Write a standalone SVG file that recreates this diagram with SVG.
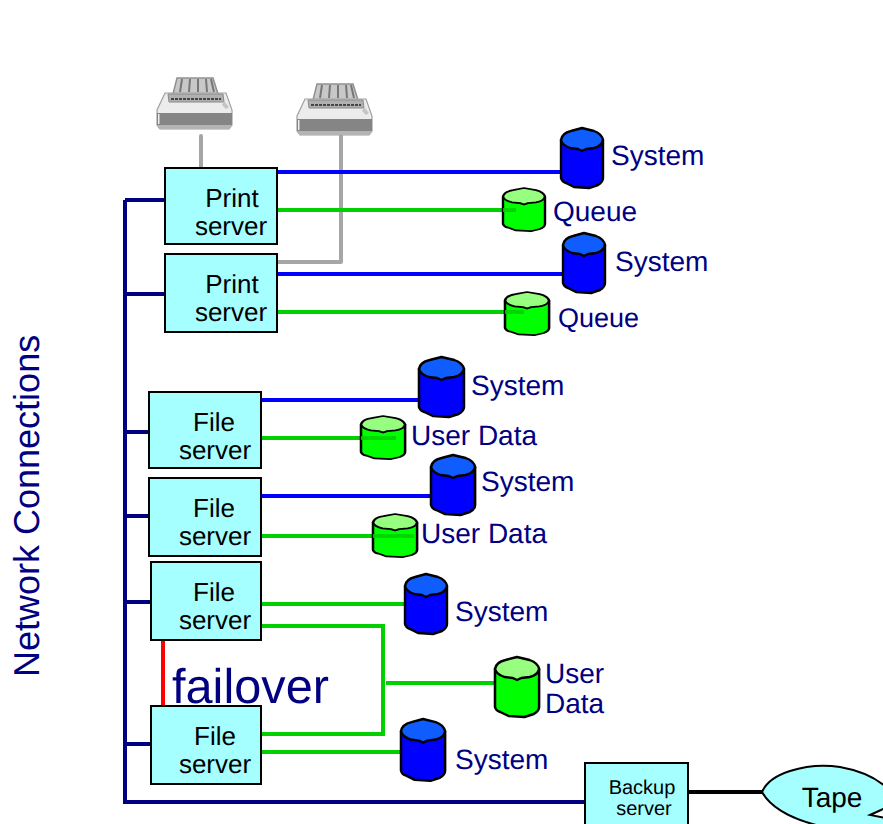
<svg xmlns="http://www.w3.org/2000/svg" xmlns:xlink="http://www.w3.org/1999/xlink" width="883" height="824" viewBox="0 0 883 824">
<style>
text{text-rendering:geometricPrecision}
.t{font-family:"Liberation Sans",Arial,sans-serif;fill:#000;font-size:26px;text-anchor:middle}
.l{font-family:"Liberation Sans",Arial,sans-serif;fill:#000080;font-size:28px}
.box{fill:#a6ffff;stroke:#000;stroke-width:2}
.c{fill:none;stroke-width:4}
.net{stroke:#000080}.b{stroke:#0000ff}.g{stroke:#00d000}.gr{stroke:#a6a6a6}
.cy{stroke:#000;stroke-width:2.4;stroke-linejoin:round}
.bb{fill:#0000ff}.bt{fill:#0f5cff}.gb{fill:#00ff00}.gt{fill:#96ff80}
</style>
<defs>
<path id="cb" d="M0,12 L0,50 Q1,54 5,55 L13,59 L28,60 L37,57 Q42,54 42,50 L42,12 Z"/>
<path id="ct" d="M0,12 Q1,5 10,3 L21,0 L33,3 Q41,6 42,12 Q41,18 33,20 L25,21 L21,23 L17,21 L9,20 Q1,17 0,12 Z"/>
<g id="cylB"><use href="#cb" xlink:href="#cb" class="cy bb"/><use href="#ct" xlink:href="#ct" class="cy bt"/></g>
<g id="cylG"><use href="#cb" xlink:href="#cb" class="cy gb"/><use href="#ct" xlink:href="#ct" class="cy gt"/></g>
<filter id="soft" x="-5%" y="-5%" width="110%" height="110%"><feGaussianBlur stdDeviation="0.45"/></filter>
<g id="printer" filter="url(#soft)">
<path d="M21,1 L57,1 L62,17 L17,17 Z" fill="#c8c8c8" stroke="#909090" stroke-width="1.5"/>
<path d="M26,2 L24,15 M34,2 L33,15 M42,2 V15 M50,2 L51,15 M55,2 L58,15" stroke="#777" stroke-width="2" fill="none"/>
<path d="M9,16 L70,16 L76,33 L76,48 L73,52 L4,52 L1,48 L1,33 Z" fill="#ececec" stroke="#a0a0a0" stroke-width="1.2"/>
<path d="M12,17 L67,17 L68,25 L13,25 Z" fill="#b0b0b0" stroke="#8a8a8a"/>
<path d="M15,22 H65" stroke="#222" stroke-width="1.6" stroke-dasharray="3 1"/>
<rect x="1" y="36" width="75" height="12" fill="#858585"/>
<rect x="2" y="37" width="1.5" height="10" fill="#eee"/>
<path d="M1,48 H76 L73,52 H4 Z" fill="#b4b4b4"/>
<path d="M68,24 L73,30 L70,32 L66,28 Z" fill="#c4c4c4"/>
</g>
</defs>
<g id="connectors">
<path class="c net" d="M125,200V802M125,200H165M125,294H165M125,432H149M125,516H149M125,602H151M125,744H151M123,802H585"/>
<path class="c gr" stroke-linecap="round" d="M201,136V168M341,130V262M277,262H341"/>
<path class="c b" d="M277,172H561M277,274H563M261,400H419M261,496H431"/>
<path class="c g" d="M277,210H503M277,312H505M261,438H361M261,536H373M261,604H405M261,626H383V736M261,734H381M386,683H495M261,752H401"/>
<path class="c" stroke="#ff0000" d="M163,641V706"/>
<path class="c" stroke="#000" d="M688,792H762"/>
</g>
<g id="printer1"><use xlink:href="#printer" href="#printer" x="156" y="77"/></g>
<g id="printer2"><use xlink:href="#printer" href="#printer" x="296" y="83"/></g>
<g id="ps1"><rect class="box" x="165" y="168" width="112" height="76"/><text class="t" x="232" y="207">Print</text><text class="t" x="231" y="235">server</text></g>
<g id="ps2"><rect class="box" x="165" y="254" width="112" height="78"/><text class="t" x="232" y="293">Print</text><text class="t" x="231" y="321">server</text></g>
<g id="fs1"><rect class="box" x="149" y="392" width="112" height="76"/><text class="t" x="214" y="431">File</text><text class="t" x="215" y="459">server</text></g>
<g id="fs2"><rect class="box" x="149" y="478" width="112" height="78"/><text class="t" x="214" y="517">File</text><text class="t" x="215" y="545">server</text></g>
<g id="fs3"><rect class="box" x="151" y="562" width="110" height="78"/><text class="t" x="214" y="601">File</text><text class="t" x="215" y="629">server</text></g>
<g id="fs4"><rect class="box" x="151" y="706" width="110" height="78"/><text class="t" x="215" y="745">File</text><text class="t" x="215" y="773">server</text></g>
<g id="backup"><rect class="box" x="585" y="763" width="103" height="62"/><text class="t" style="font-size:20px" x="642" y="794">Backup</text><text class="t" style="font-size:20px" x="644" y="815">server</text></g>
<g id="tape"><path class="box" d="M762,792 Q768,778 790,771 Q815,763 840,767 Q868,772 885,786 L885,808 L881,810 L870,815 L885,818 L885,826 L820,826 Q775,815 762,792 Z"/><text class="t" style="font-size:28px" x="832" y="807">Tape</text></g>
<g id="sys1"><use href="#cylB" xlink:href="#cylB" x="561" y="128"/><text class="l" x="611" y="165">System</text></g>
<g id="q1"><use href="#cylG" xlink:href="#cylG" transform="translate(503,188) scale(1,.72)"/><text class="l" x="553" y="221">Queue</text></g>
<g id="sys2"><use href="#cylB" xlink:href="#cylB" x="563" y="233"/><text class="l" x="615" y="271">System</text></g>
<g id="q2"><use href="#cylG" xlink:href="#cylG" transform="translate(505,292) scale(1.05,.72)"/><text class="l" style="font-size:27px" x="558" y="327">Queue</text></g>
<g id="sys3"><use href="#cylB" xlink:href="#cylB" transform="translate(419,357) scale(1.07,1)"/><text class="l" x="471" y="395">System</text></g>
<g id="ud1"><use href="#cylG" xlink:href="#cylG" transform="translate(361,416) scale(1.05,.72)"/><text class="l" x="411" y="445">User Data</text></g>
<g id="sys4"><use href="#cylB" xlink:href="#cylB" transform="translate(431,455) scale(1.05,1)"/><text class="l" x="481" y="491">System</text></g>
<g id="ud2"><use href="#cylG" xlink:href="#cylG" transform="translate(373,514) scale(1.05,.72)"/><text class="l" x="421" y="543">User Data</text></g>
<g id="sys5"><use href="#cylB" xlink:href="#cylB" x="405" y="574"/><text class="l" x="455" y="621">System</text></g>
<g id="ud3"><use href="#cylG" xlink:href="#cylG" transform="translate(495,657) scale(1.05,1)"/><text class="l" x="545" y="683">User</text><text class="l" x="545" y="713">Data</text></g>
<g id="sys6"><use href="#cylB" xlink:href="#cylB" transform="translate(401,719) scale(1.05,1.03)"/><text class="l" x="455" y="769">System</text></g>
<g id="connector-ends">
<path class="c g" stroke-opacity=".85" d="M503,210H516M505,312H524M361,438H396M373,536H414"/>
</g>
<g id="labels">
<text class="l" style="font-size:48.7px" x="172" y="703">failover</text>
<text class="l" style="font-size:36px" transform="translate(39,677) rotate(-90)">Network Connections</text>
</g>
</svg>
